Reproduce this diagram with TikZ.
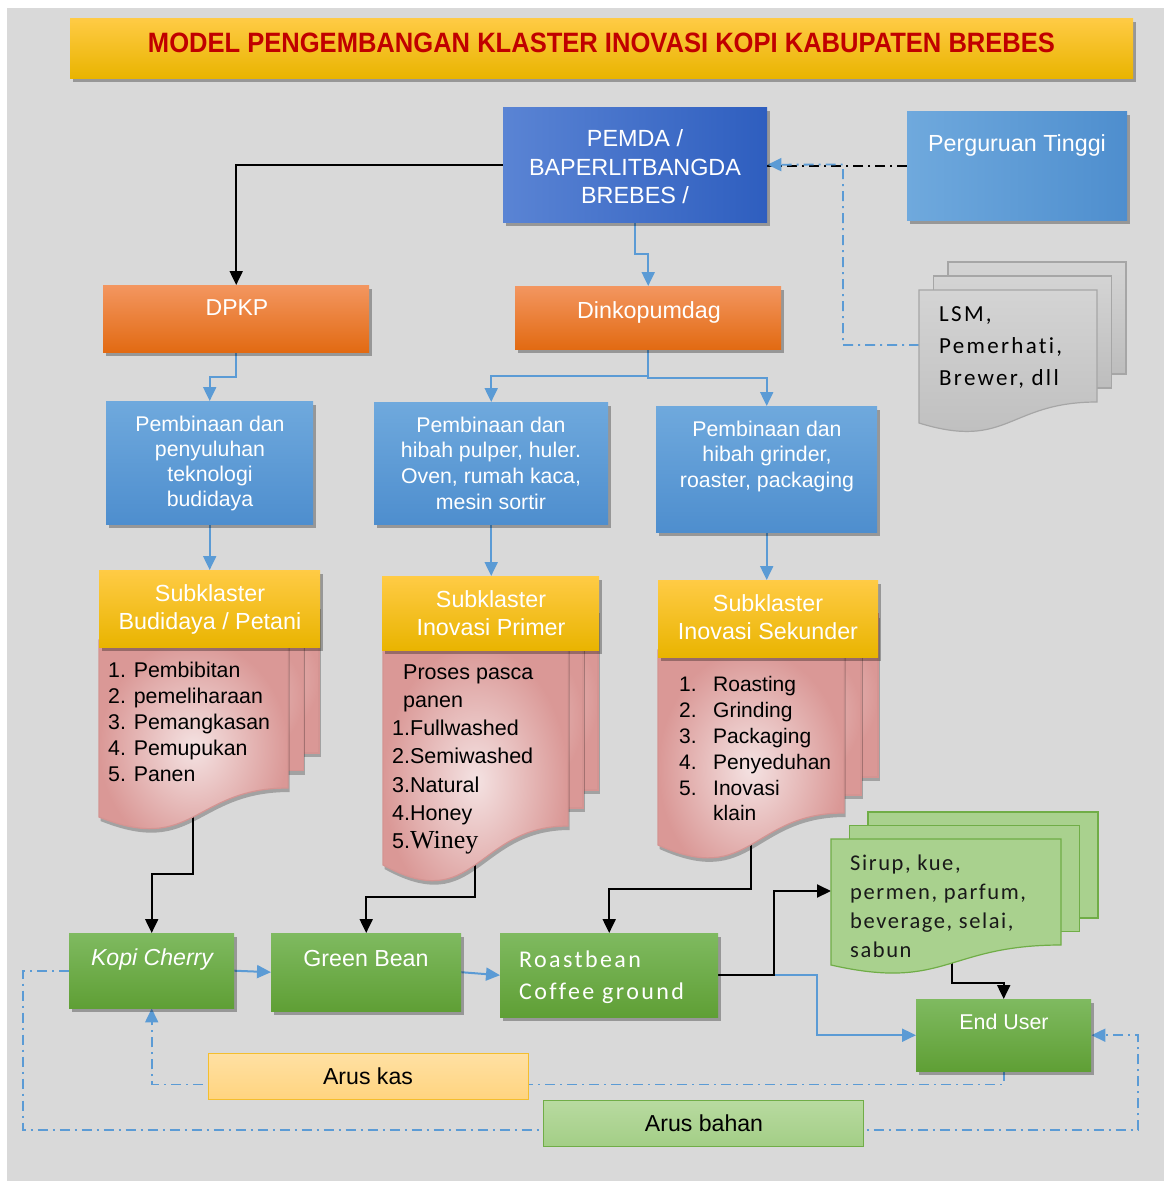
\documentclass[tikz,border=0pt]{standalone}
\usepackage{fontspec}
\usepackage{graphicx}
\setmainfont{Liberation Sans}
\newfontfamily\calfont{Carlito}[LetterSpace=10,Ligatures=NoCommon]
\newfontfamily\calfontw{Carlito}[LetterSpace=7,Ligatures=NoCommon]
\newfontfamily\serifw{Liberation Serif}
\usetikzlibrary{arrows.meta,shadows,calc}
\definecolor{bgc}{HTML}{D9D9D9}
\definecolor{ttl}{HTML}{C00000}
\definecolor{yT}{HTML}{FFCB45}\definecolor{yM}{HTML}{FFC000}\definecolor{yB}{HTML}{E9B400}
\definecolor{pemL}{HTML}{5A84D4}\definecolor{pemR}{HTML}{2E5EBF}
\definecolor{lbT}{HTML}{6FA9DD}\definecolor{lbB}{HTML}{4E8ECE}
\definecolor{orT}{HTML}{F39660}\definecolor{orM}{HTML}{F47B20}\definecolor{orB}{HTML}{E26A12}
\definecolor{grT}{HTML}{7FBA60}\definecolor{grB}{HTML}{5F9F35}
\definecolor{pkI}{HTML}{F4E2E2}\definecolor{pkO}{HTML}{DA9896}\definecolor{pkD}{HTML}{D49492}
\definecolor{gyT}{HTML}{D4D4D4}\definecolor{gyB}{HTML}{BDBDBD}\definecolor{gyD}{HTML}{A6A6A6}
\definecolor{gdF}{HTML}{A9D18E}\definecolor{gdD}{HTML}{70AD47}
\definecolor{akT}{HTML}{FFE0A3}\definecolor{akB}{HTML}{FFD47F}\definecolor{akD}{HTML}{F4BE2E}
\definecolor{abT}{HTML}{B8DAA0}\definecolor{abB}{HTML}{A3CE86}
\definecolor{cblue}{HTML}{5B9BD5}
\pgfdeclarelayer{back}\pgfdeclarelayer{edges}
\pgfsetlayers{back,edges,main}
\newcommand{\docstack}[8]{%
 \path[#8] ({#1+2*#6},{#2-2*#7}) rectangle ({#3+2*#6},{#4-2*#7});
 \path[#8] ({#1+#6},{#2-#7}) rectangle ({#3+#6},{#4-#7});
 \path[#8] (#1,#2) -- (#3,#2) -- (#3,#4) .. controls ({(#1+#3)/2},#4) and ({(#1+#3)/2},{#4+2.31*(#5-#4)}) .. (#1,#5) -- cycle;
}
\begin{document}
\begin{tikzpicture}[x=1pt,y=-1pt,
  box/.style={draw=none, inner sep=0pt, anchor=north west,
    drop shadow={shadow xshift=2.5pt, shadow yshift=-4pt, opacity=0.3, fill=black}},
  yel/.style={top color=yT, middle color=yM, bottom color=yB},
  org/.style={top color=orT, middle color=orM, bottom color=orB},
  lbl/.style={top color=lbT, bottom color=lbB},
  grn/.style={top color=grT, bottom color=grB},
  wt/.style={inner sep=0pt, text=white},
  bk/.style={inner sep=0pt, text=black},
  pinkdoc/.style={inner color=pkI, outer color=pkO, draw=pkD, line width=1.2pt,
    drop shadow={shadow xshift=1.5pt, shadow yshift=-4pt, opacity=0.25, fill=black}},
  graydoc/.style={top color=gyT, bottom color=gyB, draw=gyD, line width=1.2pt},
  greendoc/.style={fill=gdF, draw=gdD, line width=1.2pt},
  blk/.style={draw=black, line width=2pt},
  blu/.style={draw=cblue, line width=2pt},
  tip/.style={-{Triangle[length=14pt,width=13pt]}},
  ddb/.style={draw=cblue, line width=1.8pt, dash pattern=on 10pt off 5pt on 2pt off 5pt},
  ddk/.style={draw=black, line width=1.8pt, dash pattern=on 10pt off 5pt on 2pt off 5pt}]
\useasboundingbox (0,0) rectangle (1170,1187);
\begin{pgfonlayer}{back}
\fill[white] (0,0) rectangle (1170,1187);
\fill[bgc] (7,8) rectangle (1164,1181);
\end{pgfonlayer}

% document stacks
\docstack{99}{640}{288}{788}{817}{15.5}{17.5}{pinkdoc}
\docstack{383}{645}{568}{826}{865}{15}{18}{pinkdoc}
\docstack{658}{650}{844}{813}{845}{17}{18}{pinkdoc}
\docstack{919}{290}{1097}{402}{423}{14.5}{14}{graydoc}
\docstack{831}{839}{1061}{945}{965}{18.5}{13.5}{greendoc}
\coordinate (d1out) at (193,815);
\coordinate (d2out) at (475,860);
\coordinate (d3out) at (751,845);
\coordinate (lsmin) at (919,345);
\coordinate (gdin) at (831,891);
\coordinate (gdout) at (952,960);

% boxes
\node[box, yel, minimum width=1063pt, minimum height=60pt] (title) at (70,18) {};
\node[box, left color=pemL, right color=pemR, minimum width=264pt, minimum height=115pt] (pemda) at (503,107) {};
\node[box, left color=lbT, right color=lbB, minimum width=220pt, minimum height=109pt] (pt) at (907,111) {};
\node[box, org, minimum width=266pt, minimum height=67pt] (dpkp) at (103,285) {};
\node[box, org, minimum width=266pt, minimum height=63pt] (dinko) at (515,286) {};
\node[box, lbl, minimum width=207pt, minimum height=123pt] (b1) at (106,401) {};
\node[box, lbl, minimum width=234pt, minimum height=122pt] (b2) at (374,402) {};
\node[box, lbl, minimum width=221pt, minimum height=126pt] (b3) at (656,406) {};
\node[box, yel, minimum width=221pt, minimum height=77pt] (s1) at (99,570) {};
\node[box, yel, minimum width=217pt, minimum height=74pt] (s2) at (382,576) {};
\node[box, yel, minimum width=220pt, minimum height=77pt] (s3) at (658,580) {};
\node[box, grn, minimum width=165pt, minimum height=75pt] (kopi) at (69,933) {};
\node[box, grn, minimum width=190pt, minimum height=78pt] (gbean) at (271,933) {};
\node[box, grn, minimum width=218pt, minimum height=84pt] (roast) at (500,933) {};
\node[box, grn, minimum width=175pt, minimum height=72pt] (enduser) at (916,999) {};
\node[inner sep=0pt, anchor=north west, top color=akT, bottom color=akB, draw=akD, line width=1.2pt, minimum width=320pt, minimum height=46pt] (aruskas) at (208,1053) {};
\node[inner sep=0pt, anchor=north west, top color=abT, bottom color=abB, draw=gdD, line width=1.2pt, minimum width=320pt, minimum height=46pt] (arusbahan) at (543,1100) {};

% texts
\node[inner sep=0pt, anchor=base, text=ttl, font=\bfseries\fontsize{28}{28}\selectfont] (titlet) at (601.5,52) {\resizebox{907pt}{\height}{MODEL PENGEMBANGAN KLASTER INOVASI KOPI KABUPATEN BREBES}};
\node[wt, anchor=north, align=center, font=\fontsize{23.4}{28.5}\selectfont] (pemdat) at (635,129.6) {PEMDA /\\BAPERLITBANGDA\\BREBES /};
\node[wt, anchor=base, font=\fontsize{23.3}{28}\selectfont] (ptt) at (1017,151.4) {Perguruan Tinggi};
\node[wt, anchor=base, font=\fontsize{23}{28}\selectfont] (dpkpt) at (237,315.4) {DPKP};
\node[wt, anchor=base, font=\fontsize{23.3}{28}\selectfont] (dinkot) at (649,318.3) {Dinkopumdag};
\node[wt, anchor=north, align=center, font=\fontsize{21.3}{25.3}\selectfont] (b1t) at (210,415.4) {Pembinaan dan\\penyuluhan\\teknologi\\budidaya};
\node[wt, anchor=north, align=center, font=\fontsize{21.3}{25.7}\selectfont] (b2t) at (491,416.4) {Pembinaan dan\\hibah pulper, huler.\\Oven, rumah kaca,\\mesin sortir};
\node[wt, anchor=north, align=center, font=\fontsize{21.3}{25.5}\selectfont] (b3t) at (767,420.4) {Pembinaan dan\\hibah grinder,\\roaster, packaging};
\node[wt, anchor=north, align=center, font=\fontsize{23.3}{28}\selectfont] (s1t) at (210,584.6) {Subklaster\\Budidaya / Petani};
\node[wt, anchor=north, align=center, font=\fontsize{23.3}{28}\selectfont] (s2t) at (491,590.6) {Subklaster\\Inovasi Primer};
\node[wt, anchor=north, align=center, font=\fontsize{23.3}{28}\selectfont] (s3t) at (768,594.6) {Subklaster\\Inovasi Sekunder};
\node[bk, anchor=north west, align=left, font=\fontsize{21.3}{26}\selectfont] (d1t) at (108,661.4) {1. Pembibitan\\2. pemeliharaan\\3. Pemangkasan\\4. Pemupukan\\5. Panen};
\node[bk, anchor=north west, align=left, font=\fontsize{21.5}{28.2}\selectfont] (d2t) at (392,664.3) {\hspace*{11pt}Proses pasca\\\hspace*{11pt}panen\\1.Fullwashed\\2.Semiwashed\\3.Natural\\4.Honey\\5.{\serifw\fontsize{26}{28.2}\selectfont Winey}};
\node[bk, anchor=north west, align=left, font=\fontsize{21}{25.8}\selectfont] (d3t) at (679,676.5) {\makebox[34pt][l]{1.}Roasting\\\makebox[34pt][l]{2.}Grinding\\\makebox[34pt][l]{3.}Packaging\\\makebox[34pt][l]{4.}Penyeduhan\\\makebox[34pt][l]{5.}Inovasi\\\hspace*{34pt}klain};
\node[bk, anchor=north west, align=left, font=\calfont\fontsize{23}{32}\selectfont] (lsmt) at (939,306.6) {LSM,\\Pemerhati,\\Brewer, dll};
\node[bk, anchor=north west, align=left, font=\calfontw\fontsize{22.5}{29}\selectfont, text=black!90] (gdt) at (850,854.8) {Sirup, kue,\\permen, parfum,\\beverage, selai,\\sabun};
\node[wt, anchor=north west, align=left, font=\calfont\fontsize{24}{32}\selectfont] (roastt) at (519,950.3) {Roastbean\\Coffee ground};
\node[wt, anchor=base, font=\itshape\fontsize{23.1}{28}\selectfont] (kopit) at (152,965.3) {Kopi Cherry};
\node[wt, anchor=base, font=\fontsize{23.2}{28}\selectfont] (gbeant) at (366,966.3) {Green Bean};
\node[wt, anchor=base, font=\fontsize{21.4}{28}\selectfont] (endusert) at (1004,1029.7) {End User};
\node[bk, anchor=base, font=\fontsize{23.1}{28}\selectfont] (aruskast) at (368,1084.3) {Arus kas};
\node[bk, anchor=base, font=\fontsize{23.1}{28}\selectfont] (arusbahant) at (704,1131.3) {Arus bahan};

% connectors
\begin{pgfonlayer}{edges}
\draw[blk, tip] (pemda.west) -| (dpkp.north);
\draw[blu, tip] (pemda.south) |- ($(pemda.south)!0.5!(dinko.north)$) -| (dinko.north);
\draw[ddk] (pt.west) -- (pt.west -| pemda.east);
\draw[ddb, tip] (lsmin) -| (843,164.5) -- (pemda.east);
\draw[blu, tip] (dpkp.south) |- ($(dpkp.south)!0.5!(b1.north)$) -| (b1.north);
\draw[blu, tip] (dinko.south) |- ($(dinko.south)!0.5!(b2.north)$) -| (b2.north);
\draw[blu, tip] (dinko.south) |- ($(dinko.south)!0.5!(b3.north)$) -| (b3.north);
\draw[blu, tip] (b1.south) -- (b1.south |- s1.north);
\draw[blu, tip] (b2.south) -- (b2.south |- s2.north);
\draw[blu, tip] (b3.south) -- (b3.south |- s3.north);
\draw[blk, tip] (d1out) |- ($(d1out)!0.5!(kopi.north)$) -| (kopi.north);
\draw[blk, tip] (d2out) |- ($(d2out)!0.5!(gbean.north)$) -| (gbean.north);
\draw[blk, tip] (d3out) |- ($(d3out)!0.5!(roast.north)$) -| (roast.north);
\draw[blu, tip] (kopi.east) -- (gbean.west);
\draw[blu, tip] (gbean.east) -- (roast.west);
\coordinate (split) at ($(roast.east)+(56,0)$);
\draw[blu, tip] (split) -- ++(43,0) |- (enduser.west);
\draw[blk, tip] (roast.east) -- (split) |- (gdin);
\draw[blk, tip] (gdout) |- ($(gdout)!0.6!(enduser.north)$) -| (enduser.north);
\draw[ddb, tip] (enduser.south) -- ++(0,13) -| (kopi.south);
\draw[ddb, tip] (kopi.west) -| (23,1130) -- (1138,1130) |- (enduser.east);
\end{pgfonlayer}
\end{tikzpicture}
\end{document}
